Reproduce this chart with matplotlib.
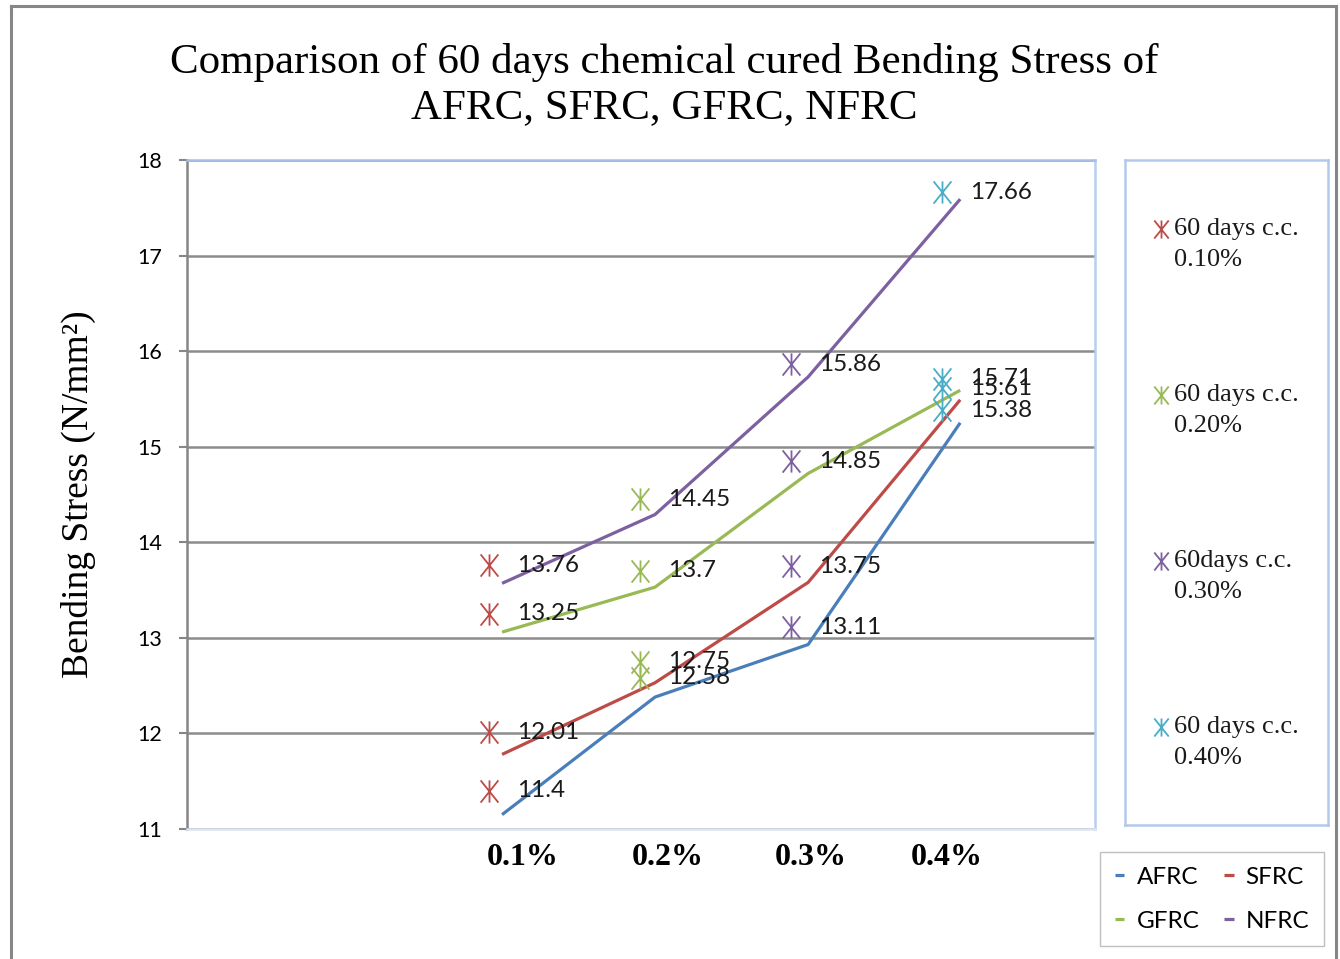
import matplotlib
matplotlib.use('Agg')
from matplotlib import pyplot as plt
from matplotlib.path import Path
from matplotlib.lines import Line2D
import numpy as np

# categories (fibre content)
categories = ['0.1%', '0.2%', '0.3%', '0.4%']

# scatter series: 60 days chemical cured, one series per fibre content
scatter_names = ['60 days c.c.\n0.10%', '60 days c.c.\n0.20%',
                 '60days c.c.\n0.30%', '60 days c.c.\n0.40%']
pts_01 = [13.76, 13.25, 12.01, 11.4]
pts_02 = [14.45, 13.7, 12.75, 12.58]
pts_03 = [15.86, 14.85, 13.75, 13.11]
pts_04 = [17.66, 15.71, 15.61, 15.38]

# line series (fibre types)
line_names = ['AFRC', 'SFRC', 'GFRC', 'NFRC']
afrc = [11.15, 12.38, 12.93, 15.25]
sfrc = [11.78, 12.53, 13.58, 15.49]
gfrc = [13.06, 13.53, 14.72, 15.59]
nfrc = [13.57, 14.29, 15.73, 17.59]

scatter_colors = ['#be4b48', '#98b954', '#7d60a0', '#4bacc6']
line_colors = ['#4a7ebb', '#be4b48', '#98b954', '#7d60a0']

# x layout (Excel offsets lines / markers / labels a little)
x_pts = np.array([2.0, 3.0, 4.0, 5.0])
x_line = np.array([2.086, 3.099, 4.113, 5.12])
x_lab = np.array([2.22, 3.18, 4.13, 5.03])

serif = 'Liberation Serif'
sans = 'Lato'

# asterisk marker: X plus vertical bar
star = Path([(-0.8, -1), (0.8, 1), (-0.8, 1), (0.8, -1), (0, -1), (0, 1)],
            [Path.MOVETO, Path.LINETO, Path.MOVETO, Path.LINETO, Path.MOVETO, Path.LINETO])

fig = plt.figure(figsize=(13.4, 9.59), dpi=100)
ax = fig.add_axes([0.1396, 0.1356, 0.6776, 0.6976])

line_handles = []
for ys, c, name in zip([afrc, sfrc, gfrc, nfrc], line_colors, line_names):
    h, = ax.plot(x_line, ys, color=c, lw=2.3, label=name, zorder=3, solid_capstyle='butt')
    line_handles.append(h)

for i, (ys, c) in enumerate(zip([pts_01, pts_02, pts_03, pts_04], scatter_colors)):
    xs = np.full(len(ys), x_pts[i])
    ax.plot(xs, ys, ls='none', marker=star, ms=16, mew=1.3, color=c, zorder=4)
    for y in ys:
        ax.annotate(f'{y:g}', (x_pts[i], y), xytext=(20, 0), textcoords='offset points',
                    ha='left', va='center', fontsize=17.5, family=sans, color='#1a1a1a', zorder=5)

ax.set_xlim(0, 6.013)
ax.set_ylim(11, 18)
ax.set_yticks(range(11, 19))
ax.set_xticks(x_lab)
ax.set_xticklabels(categories, fontsize=23, fontweight='bold', family=serif)
ax.tick_params(axis='x', length=0, pad=10)
ax.tick_params(axis='y', length=6, width=1.5, color='#868686', labelsize=15.5, pad=12)
for lab in ax.get_yticklabels():
    lab.set_family(sans)
ax.yaxis.grid(True, color='#8c8c8c', lw=1.8)
ax.set_axisbelow(True)
ax.spines['left'].set_color('#868686')
ax.spines['left'].set_linewidth(1.8)
ax.spines['top'].set_color('#a7bfe8')
ax.spines['right'].set_color('#b9cdee')
ax.spines['bottom'].set_color('#dde5f2')
for s in ['top', 'right', 'bottom']:
    ax.spines[s].set_linewidth(1.8)
ax.set_ylabel('Bending Stress (N/mm²)', fontsize=27, family=serif, labelpad=30)

fig.text(0.496, 0.911, 'Comparison of 60 days chemical cured Bending Stress of\nAFRC, SFRC, GFRC, NFRC',
         ha='center', va='center', fontsize=31, family=serif, linespacing=1.22)

# legend box for scatter series (entries placed by hand, Excel style)
lax = fig.add_axes([0.8396, 0.1397, 0.1515, 0.6934])
lax.set_xlim(1125, 1328)
lax.set_ylim(825, 160)
lax.set_xticks([])
lax.set_yticks([])
for s in lax.spines.values():
    s.set_color('#b4c8ec')
    s.set_linewidth(1.8)
entry_y = [229, 395, 561, 727]
for name, c, ey in zip(scatter_names, scatter_colors, entry_y):
    lax.plot([1161], [ey], ls='none', marker=star, ms=13, mew=1.3, color=c)
    lax.text(1174, ey + 15.5, name, ha='left', va='center', fontsize=19, family=serif,
             linespacing=1.5, color='#1a1a1a')

# legend for line series (row-wise: AFRC SFRC / GFRC NFRC)
order = [0, 2, 1, 3]
fig.legend([line_handles[k] for k in order], [line_names[k] for k in order], ncol=2,
           loc='center', bbox_to_anchor=(0.9045, 0.0625), prop={'family': sans, 'size': 17.5},
           handlelength=0.4, handletextpad=0.5, columnspacing=1.0, labelspacing=0.95,
           fancybox=False, edgecolor='#bfbfbf', framealpha=1, borderpad=0.6)

# outer chart border
fig.add_artist(Line2D([11/1340, 11/1340], [0, 1 - 6/959], color='#868686', lw=2.2))
fig.add_artist(Line2D([11/1340, 1336/1340], [1 - 6/959, 1 - 6/959], color='#868686', lw=2.2))
fig.add_artist(Line2D([1336/1340, 1336/1340], [0, 1 - 6/959], color='#868686', lw=2.2))

fig.savefig('out.png', dpi=100)
